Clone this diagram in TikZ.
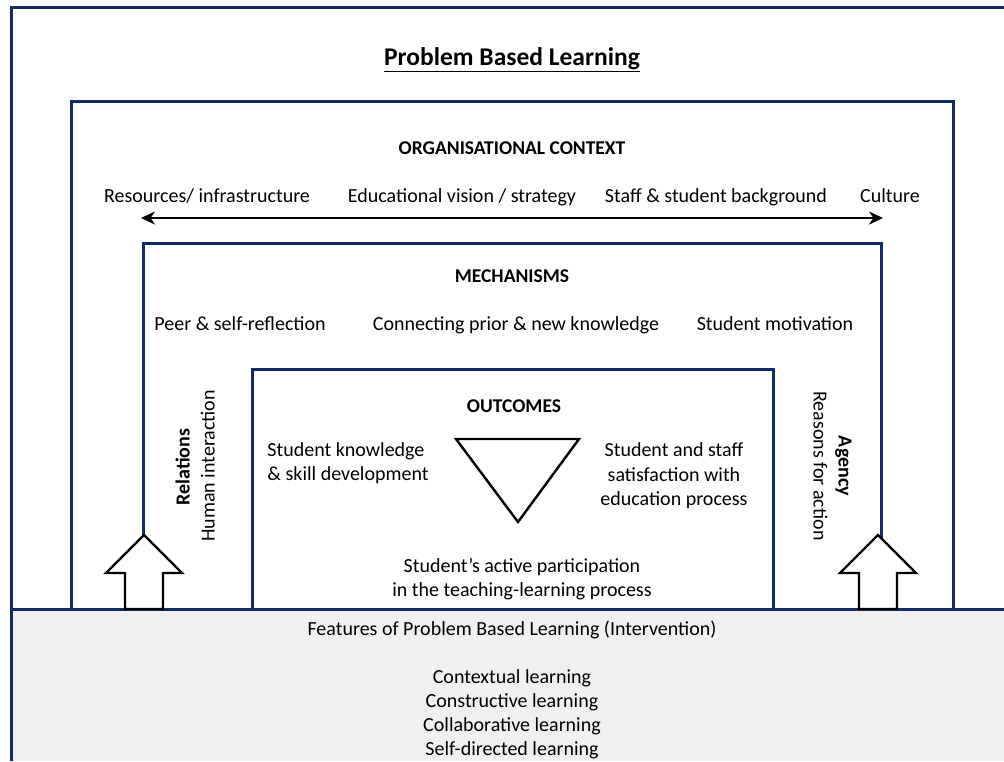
\documentclass[tikz,border=0pt]{standalone}
\usepackage{fontspec}
\setmainfont{Carlito}
\usetikzlibrary{arrows.meta}
\definecolor{navy}{RGB}{18,42,100}
\definecolor{band}{RGB}{240,240,240}
\begin{document}
\begin{tikzpicture}[x=1pt,y=-1pt,
  box/.style={draw=navy,line width=3pt},
  lbl/.style={font=\fontsize{20}{24.5}\selectfont,inner sep=0pt,align=center,text height=0.72em,text depth=0.22em},
  head/.style={font=\fontsize{19.5}{24}\selectfont\bfseries,inner sep=0pt,text height=0.72em,text depth=0.22em},
  blockarrow/.style={draw=black,fill=white,line width=2.4pt,line join=miter}]
\useasboundingbox (0,0) rectangle (1004,761);
\fill[white] (0,0) rectangle (1004,761);
% boxes
\draw[box] (11,761) -- (11,7) -- (1010,7);
\draw[box] (71,609) -- (71,101) -- (953,101) -- (953,609);
\draw[box] (143,609) -- (143,243) -- (881,243) -- (881,609);
\draw[box] (252,609) -- (252,369) -- (773,369) -- (773,609);
% band
\fill[band] (11,609) rectangle (1004,761);
\draw[box] (11,609) -- (1010,609);
\draw[box] (11,609) -- (11,761);
% title
\node[font=\fontsize{25.5}{30}\selectfont\bfseries,inner sep=0pt,text height=0.72em,text depth=0.22em] (title) at (512,63) {\underline{Problem Based Learning}};
% organisational context
\node[head] (org) at (512,152) {ORGANISATIONAL CONTEXT};
\node[lbl] (res) at (207,200) {Resources/ infrastructure};
\node[lbl] (edu) at (462,200) {Educational vision / strategy};
\node[lbl] (staff) at (716,200) {Staff \& student background};
\node[lbl] (cult) at (890,200) {Culture};
\coordinate (al) at (141,218);
\coordinate (ar) at (883,218);
\draw[line width=2.8pt,{Stealth[length=14pt,width=13pt]}-{Stealth[length=14pt,width=13pt]}] (al) -- (ar);
% mechanisms
\node[head] (mech) at (512,280) {MECHANISMS};
\node[lbl] (peer) at (240,328) {Peer \& self-reflection};
\node[lbl] (conn) at (516,328) {Connecting prior \& new knowledge};
\node[lbl] (mot) at (775,328) {Student motivation};
\node[lbl,rotate=90,font=\fontsize{20}{24.5}\selectfont\bfseries] (rel) at (187,467) {Relations};
\node[lbl,rotate=90] (hum) at (212,466) {Human interaction};
\node[lbl,rotate=-90,font=\fontsize{20}{24.5}\selectfont\bfseries] (ag) at (841,466) {Agency};
\node[lbl,rotate=-90] (reas) at (816,466) {Reasons for action};
% outcomes
\node[head] (out) at (514,410) {OUTCOMES};
\node[lbl,align=left] (know) at (348,478) {Student knowledge\\\& skill development};
\node[lbl] (sat) at (674,503) {Student and staff\\satisfaction with\\education process};
\node[lbl] (act) at (522,594) {Student’s active participation\\in the teaching-learning process};
\draw[line width=2.4pt,line join=miter] (456,439) -- (579,439) -- (518,522) -- cycle;
% block arrows
\draw[blockarrow] (125,609) -- (125,573) -- (106,573) -- (144,535) -- (182,573) -- (163,573) -- (163,609) -- cycle;
\draw[blockarrow] (859,609) -- (859,573) -- (840,573) -- (878,535) -- (916,573) -- (897,573) -- (897,609) -- cycle;
% features
\node[lbl] (feat) at (512,633) {Features of Problem Based Learning (Intervention)};
\node[lbl] (f1) at (512,681) {Contextual learning};
\node[lbl] (f2) at (512,705) {Constructive learning};
\node[lbl] (f3) at (512,729) {Collaborative learning};
\node[lbl] (f4) at (512,753) {Self-directed learning};
\end{tikzpicture}
\end{document}
